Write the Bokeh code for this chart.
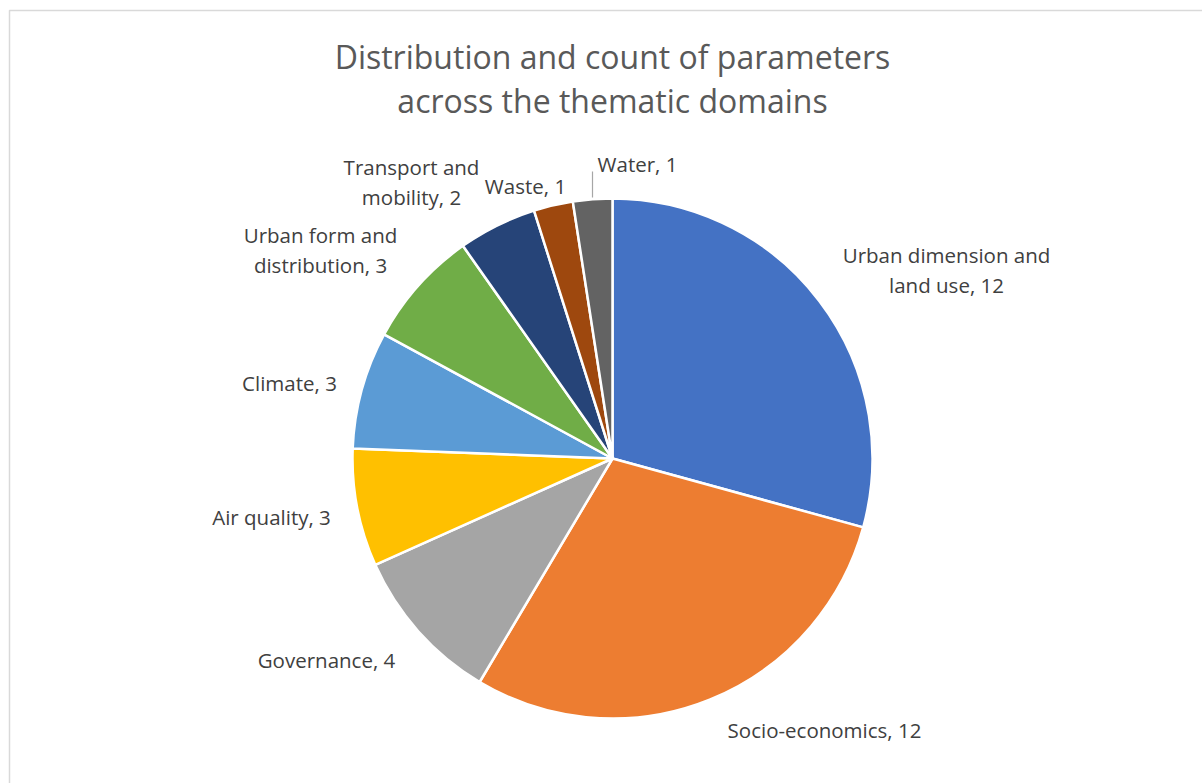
import numpy as np
from bokeh.plotting import figure
from bokeh.models import Range1d, ColumnDataSource
from bokeh.core.properties import value
from bokeh.embed import file_html
from bokeh.resources import INLINE

# ---- data ----
categories = ["Urban dimension and land use", "Socio-economics", "Governance",
              "Air quality", "Climate", "Urban form and distribution",
              "Transport and mobility", "Waste", "Water"]
counts = [12, 12, 4, 3, 3, 3, 2, 1, 1]
label_texts = ["Urban dimension and\nland use, 12", "Socio-economics, 12", "Governance, 4",
               "Air quality, 3", "Climate, 3", "Urban form and\ndistribution, 3",
               "Transport and\nmobility, 2", "Waste, 1", "Water, 1"]
colors = ["#4472C4", "#ED7D31", "#A5A5A5", "#FFC000", "#5B9BD5",
          "#70AD47", "#264478", "#9E480E", "#636363"]
title_lines = ["Distribution and count of parameters", "across the thematic domains"]

# ---- layout (pixels, y measured from top) ----
W, H = 1202, 783
cx, cy, R = 612, 458, 260
label_px = [(946, 269), (824, 729), (326, 659), (271, 516), (289, 382),
            (320, 249), (411, 181), (525, 185), (637, 163)]
LINE_GAP = 30

def Y(v):
    return H - v

vals = np.array(counts, dtype=float)
total = vals.sum()
cum = np.concatenate([[0], np.cumsum(vals)])
start = np.pi / 2 - cum[:-1] / total * 2 * np.pi
end = np.pi / 2 - cum[1:] / total * 2 * np.pi

p = figure(width=W, height=H, output_backend="svg", toolbar_location=None,
           x_range=Range1d(0, W), y_range=Range1d(0, H), min_border=0)
p.axis.visible = False
p.grid.visible = False
p.outline_line_color = None
p.background_fill_color = "white"
p.border_fill_color = "white"

# chart border
p.quad(left=[9], right=[W + 10], top=[Y(10)], bottom=[Y(H + 10)],
       fill_color=None, line_color="#d9d9d9", line_width=1.5)

src = ColumnDataSource(dict(cat=categories, count=counts, start=start, end=end, color=colors))
p.wedge(x=cx, y=Y(cy), radius=R, start_angle="start", end_angle="end",
        direction="clock", fill_color="color", line_color="white", line_width=2.5,
        source=src)

# leader line for Water
p.segment(x0=[592], y0=[Y(171)], x1=[592], y1=[Y(197)], line_color="#a6a6a6", line_width=1.2)

xs, ys, ts = [], [], []
for (lx, ly), t in zip(label_px, label_texts):
    lines = t.split("\n")
    n = len(lines)
    for i, line in enumerate(lines):
        xs.append(lx)
        ys.append(Y(ly + (i - (n - 1) / 2) * LINE_GAP))
        ts.append(line)
lsrc = ColumnDataSource(dict(x=xs, y=ys, t=ts))
p.text(x="x", y="y", text="t", source=lsrc, text_align="center", text_baseline="middle",
       text_font=value("Open Sans"), text_font_size="20.5px", text_color="#404040")

p.text(x=[612, 612], y=[Y(56), Y(100)], text=title_lines, text_align="center",
       text_baseline="middle", text_font=value("Open Sans"), text_font_size="32px",
       text_color="#595959")

open("out.html", "w").write(file_html(p, INLINE))
